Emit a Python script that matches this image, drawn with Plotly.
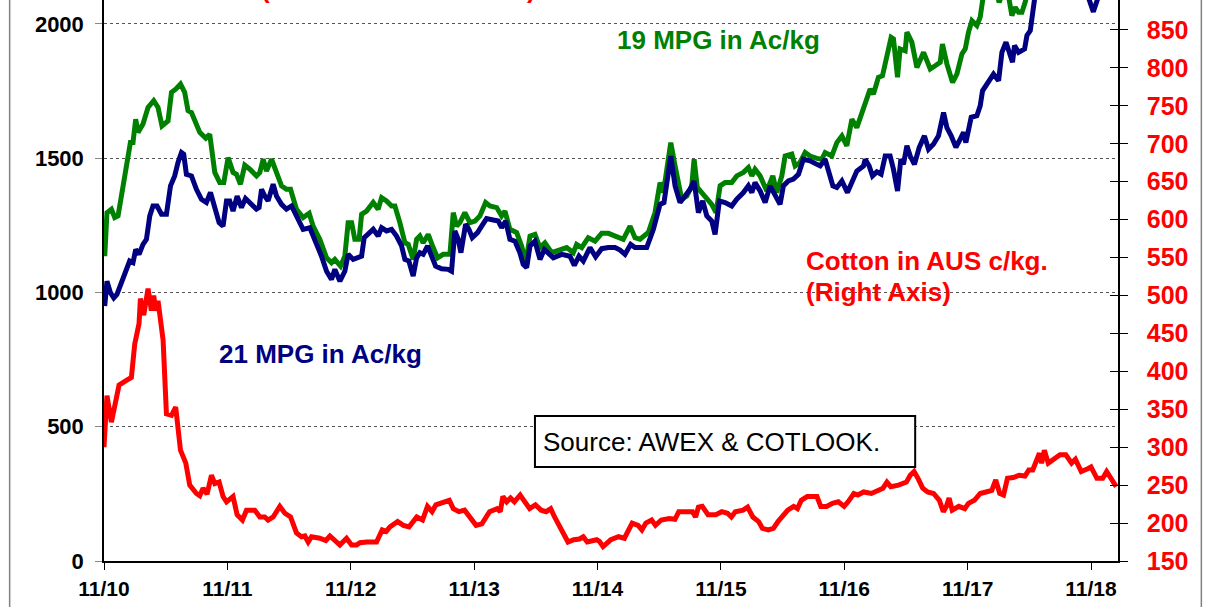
import plotly.graph_objects as go

# ---------------- data (decimal years, values) ----------------
green_t = [2010.839, 2010.857, 2010.893, 2010.920, 2010.947, 2010.987, 2011.028, 2011.047, 2011.068, 2011.090,
           2011.109, 2011.149, 2011.190, 2011.236, 2011.271, 2011.303, 2011.352, 2011.380, 2011.414, 2011.453,
           2011.487, 2011.514, 2011.542, 2011.609, 2011.658, 2011.690, 2011.731, 2011.771, 2011.804, 2011.839,
           2011.879, 2011.907, 2011.939, 2011.974, 2012.015, 2012.069, 2012.096, 2012.123, 2012.150, 2012.191,
           2012.231, 2012.272, 2012.312, 2012.345, 2012.393, 2012.447, 2012.496, 2012.528, 2012.582, 2012.637,
           2012.677, 2012.704, 2012.750, 2012.785, 2012.812, 2012.840, 2012.866, 2012.901, 2012.921, 2012.961,
           2013.015, 2013.055, 2013.083, 2013.123, 2013.164, 2013.191, 2013.231, 2013.272, 2013.299, 2013.339,
           2013.367, 2013.393, 2013.420, 2013.461, 2013.501, 2013.537, 2013.582, 2013.637, 2013.664, 2013.691,
           2013.718, 2013.758, 2013.799, 2013.840, 2013.880, 2013.926, 2013.961, 2014.016, 2014.056, 2014.083,
           2014.123, 2014.178, 2014.218, 2014.251, 2014.286, 2014.326, 2014.367, 2014.407, 2014.462, 2014.515,
           2014.583, 2014.637, 2014.664, 2014.705, 2014.758, 2014.813, 2014.867, 2014.921, 2014.975, 2015.042,
           2015.097, 2015.137, 2015.178, 2015.245, 2015.299, 2015.340, 2015.367, 2015.394, 2015.427, 2015.462,
           2015.516, 2015.557, 2015.597, 2015.616, 2015.642, 2015.678, 2015.719, 2015.759, 2015.794, 2015.827,
           2015.867, 2015.921, 2015.962, 2016.016, 2016.056, 2016.084, 2016.110, 2016.151, 2016.205, 2016.254,
           2016.286, 2016.327, 2016.354, 2016.408, 2016.435, 2016.475, 2016.516, 2016.556, 2016.611, 2016.651,
           2016.678, 2016.732, 2016.773, 2016.814, 2016.854, 2016.895, 2016.935, 2016.989, 2017.043, 2017.070,
           2017.110, 2017.143, 2017.179, 2017.213, 2017.232, 2017.265, 2017.286, 2017.327, 2017.341, 2017.381,
           2017.422, 2017.476, 2017.503, 2017.530, 2017.570, 2017.611, 2017.629, 2017.665, 2017.711, 2017.746,
           2017.787, 2017.814, 2017.840, 2017.868, 2017.908, 2017.935, 2017.962, 2018.000, 2018.049, 2018.089,
           2018.122, 2018.162, 2018.192, 2018.219, 2018.246, 2018.273, 2018.300, 2018.327, 2018.422, 2018.543,
           2018.665, 2018.787, 2018.852, 2018.908, 2019.038]
green_v = [1135, 1297, 1310, 1279, 1285, 1397, 1533, 1558, 1558, 1645,
           1596, 1627, 1689, 1714, 1689, 1620, 1639, 1745, 1757, 1776,
           1745, 1677, 1670, 1596, 1574, 1589, 1447, 1409, 1409, 1502,
           1447, 1440, 1403, 1474, 1459, 1434, 1447, 1496, 1452, 1496,
           1447, 1397, 1384, 1384, 1310, 1279, 1295, 1247, 1198, 1129,
           1111, 1123, 1098, 1135, 1260, 1260, 1198, 1198, 1291, 1303,
           1335, 1310, 1353, 1341, 1322, 1322, 1260, 1185, 1179, 1123,
           1198, 1210, 1185, 1216, 1167, 1129, 1142, 1142, 1297, 1247,
           1260, 1297, 1260, 1266, 1285, 1335, 1322, 1316, 1285, 1303,
           1235, 1223, 1173, 1111, 1210, 1216, 1167, 1185, 1148, 1158,
           1167, 1148, 1179, 1167, 1204, 1191, 1220, 1220, 1210, 1198,
           1247, 1204, 1198, 1223, 1297, 1409, 1372, 1447, 1558, 1471,
           1347, 1359, 1397, 1496, 1391, 1372, 1347, 1328, 1297, 1397,
           1409, 1409, 1434, 1447, 1465, 1434, 1459, 1434, 1378, 1434,
           1372, 1434, 1508, 1515, 1471, 1484, 1521, 1508, 1499, 1496,
           1521, 1508, 1558, 1583, 1546, 1645, 1614, 1680, 1757, 1739,
           1801, 1807, 1888, 1950, 1944, 1801, 1907, 1900, 1969, 1932,
           1838, 1894, 1863, 1832, 1844, 1857, 1925, 1851, 1782, 1813,
           1888, 1907, 1969, 2012, 1994, 2025, 2110, 2180, 2150, 2080,
           2125, 2110, 2031, 2062, 2043, 2043, 2081, 2130, 2250, 2380,
           2350, 2400, 2250, 2350, 2300]

blue_t = [2010.839, 2010.857, 2010.885, 2010.912, 2010.938, 2010.974, 2011.015, 2011.041, 2011.068, 2011.090,
          2011.117, 2011.149, 2011.177, 2011.204, 2011.230, 2011.263, 2011.299, 2011.339, 2011.372, 2011.406,
          2011.433, 2011.461, 2011.479, 2011.501, 2011.542, 2011.582, 2011.623, 2011.663, 2011.696, 2011.731,
          2011.766, 2011.798, 2011.826, 2011.852, 2011.879, 2011.912, 2011.947, 2011.980, 2012.028, 2012.069,
          2012.090, 2012.110, 2012.136, 2012.163, 2012.204, 2012.231, 2012.272, 2012.312, 2012.353, 2012.393,
          2012.447, 2012.501, 2012.542, 2012.596, 2012.637, 2012.677, 2012.704, 2012.745, 2012.785, 2012.812,
          2012.853, 2012.893, 2012.921, 2012.942, 2012.974, 2013.015, 2013.055, 2013.083, 2013.123, 2013.164,
          2013.204, 2013.245, 2013.272, 2013.304, 2013.339, 2013.367, 2013.393, 2013.420, 2013.456, 2013.488,
          2013.521, 2013.569, 2013.623, 2013.650, 2013.677, 2013.704, 2013.726, 2013.764, 2013.791, 2013.818,
          2013.861, 2013.894, 2013.934, 2013.988, 2014.029, 2014.056, 2014.089, 2014.123, 2014.164, 2014.204,
          2014.231, 2014.259, 2014.286, 2014.326, 2014.367, 2014.402, 2014.434, 2014.475, 2014.543, 2014.610,
          2014.645, 2014.683, 2014.718, 2014.772, 2014.818, 2014.867, 2014.921, 2014.975, 2015.016, 2015.056,
          2015.102, 2015.137, 2015.192, 2015.232, 2015.286, 2015.340, 2015.372, 2015.399, 2015.427, 2015.462,
          2015.502, 2015.543, 2015.583, 2015.616, 2015.651, 2015.686, 2015.719, 2015.759, 2015.786, 2015.821,
          2015.867, 2015.921, 2015.962, 2016.016, 2016.056, 2016.084, 2016.110, 2016.151, 2016.192, 2016.232,
          2016.259, 2016.286, 2016.313, 2016.340, 2016.380, 2016.421, 2016.462, 2016.502, 2016.556, 2016.611,
          2016.638, 2016.678, 2016.705, 2016.741, 2016.773, 2016.814, 2016.859, 2016.895, 2016.935, 2016.989,
          2017.003, 2017.035, 2017.062, 2017.097, 2017.132, 2017.165, 2017.205, 2017.232, 2017.265, 2017.292,
          2017.313, 2017.341, 2017.368, 2017.402, 2017.441, 2017.483, 2017.516, 2017.556, 2017.597, 2017.638,
          2017.665, 2017.700, 2017.738, 2017.773, 2017.800, 2017.819, 2017.862, 2017.908, 2017.935, 2017.954,
          2018.003, 2018.043, 2018.084, 2018.111, 2018.144, 2018.170, 2018.197, 2018.213, 2018.246, 2018.295,
          2018.314, 2018.341, 2018.355, 2018.381, 2018.462, 2018.568, 2018.665, 2018.762, 2018.811, 2018.852,
          2018.892, 2018.949, 2019.038]
blue_v = [949, 1042, 999, 980, 993, 1036, 1079, 1117, 1111, 1160,
          1142, 1179, 1198, 1285, 1322, 1322, 1291, 1291, 1397, 1434,
          1484, 1521, 1515, 1440, 1434, 1384, 1347, 1335, 1372, 1310,
          1260, 1247, 1341, 1341, 1303, 1359, 1316, 1350, 1328, 1310,
          1316, 1384, 1359, 1341, 1403, 1359, 1328, 1310, 1322, 1285,
          1235, 1241, 1198, 1135, 1079, 1048, 1086, 1042, 1079, 1142,
          1123, 1129, 1135, 1204, 1216, 1235, 1210, 1241, 1229, 1235,
          1210, 1173, 1123, 1117, 1061, 1129, 1148, 1142, 1173, 1135,
          1098, 1088, 1086, 1079, 1229, 1198, 1148, 1254, 1235, 1204,
          1223, 1247, 1275, 1270, 1266, 1241, 1266, 1198, 1191, 1148,
          1104, 1092, 1173, 1191, 1123, 1160, 1148, 1129, 1142, 1135,
          1101, 1135, 1117, 1167, 1133, 1163, 1167, 1167, 1158, 1142,
          1179, 1167, 1167, 1167, 1235, 1328, 1335, 1422, 1508, 1397,
          1335, 1359, 1384, 1415, 1297, 1341, 1285, 1266, 1216, 1341,
          1335, 1322, 1347, 1372, 1397, 1372, 1409, 1378, 1335, 1397,
          1372, 1347, 1328, 1397, 1415, 1422, 1440, 1496, 1490, 1477,
          1471, 1496, 1447, 1397, 1391, 1415, 1372, 1409, 1452, 1471,
          1496, 1471, 1434, 1449, 1440, 1508, 1508, 1459, 1378, 1496,
          1477, 1546, 1508, 1477, 1540, 1583, 1533, 1552, 1583, 1670,
          1614, 1583, 1540, 1571, 1596, 1558, 1652, 1658, 1695, 1751,
          1788, 1813, 1788, 1894, 1932, 1900, 1857, 1919, 1894, 1907,
          1957, 1975, 2031, 2110, 2180, 2220, 2200, 2160, 2100, 2045,
          2100, 2170, 2150]

red_t = [2010.833, 2010.857, 2010.893, 2010.928, 2010.955, 2011.015, 2011.055, 2011.082, 2011.117, 2011.128,
         2011.155, 2011.190, 2011.217, 2011.236, 2011.252, 2011.271, 2011.312, 2011.339, 2011.380, 2011.414,
         2011.453, 2011.496, 2011.528, 2011.582, 2011.609, 2011.636, 2011.668, 2011.704, 2011.731, 2011.766,
         2011.798, 2011.826, 2011.879, 2011.912, 2011.955, 2011.988, 2012.055, 2012.096, 2012.136, 2012.163,
         2012.204, 2012.258, 2012.299, 2012.345, 2012.393, 2012.434, 2012.461, 2012.488, 2012.515, 2012.582,
         2012.631, 2012.664, 2012.704, 2012.745, 2012.799, 2012.840, 2012.880, 2012.907, 2012.965, 2013.042,
         2013.088, 2013.120, 2013.151, 2013.213, 2013.260, 2013.306, 2013.368, 2013.415, 2013.455, 2013.492,
         2013.523, 2013.601, 2013.632, 2013.664, 2013.710, 2013.756, 2013.803, 2013.849, 2013.896, 2013.958,
         2014.020, 2014.045, 2014.066, 2014.097, 2014.128, 2014.159, 2014.206, 2014.252, 2014.283, 2014.330,
         2014.376, 2014.417, 2014.454, 2014.485, 2014.541, 2014.594, 2014.641, 2014.687, 2014.718, 2014.750,
         2014.827, 2014.849, 2014.878, 2014.941, 2015.004, 2015.051, 2015.114, 2015.162, 2015.193, 2015.225,
         2015.272, 2015.303, 2015.350, 2015.414, 2015.461, 2015.492, 2015.556, 2015.603, 2015.628, 2015.651,
         2015.682, 2015.729, 2015.792, 2015.840, 2015.887, 2015.918, 2015.950, 2016.013, 2016.050, 2016.092,
         2016.139, 2016.170, 2016.217, 2016.259, 2016.296, 2016.328, 2016.375, 2016.423, 2016.454, 2016.485,
         2016.533, 2016.612, 2016.643, 2016.690, 2016.737, 2016.785, 2016.832, 2016.864, 2016.911, 2016.943,
         2016.990, 2017.053, 2017.100, 2017.147, 2017.179, 2017.210, 2017.273, 2017.337, 2017.368, 2017.399,
         2017.431, 2017.469, 2017.509, 2017.557, 2017.604, 2017.636, 2017.661, 2017.683, 2017.708, 2017.762,
         2017.810, 2017.840, 2017.888, 2017.935, 2017.982, 2018.029, 2018.061, 2018.093, 2018.124, 2018.156,
         2018.203, 2018.251, 2018.298, 2018.329, 2018.361, 2018.393, 2018.415, 2018.433, 2018.455, 2018.487,
         2018.534, 2018.582, 2018.629, 2018.676, 2018.707, 2018.754, 2018.811, 2018.833, 2018.881, 2018.928,
         2018.960, 2019.007, 2019.038]
red_v = [300, 368, 333, 357, 382, 388, 392, 436, 463, 496,
         474, 509, 480, 500, 480, 493, 441, 344, 342, 353,
         296, 279, 250, 239, 236, 246, 238, 263, 252, 254,
         235, 228, 235, 211, 204, 217, 217, 208, 208, 204,
         208, 222, 213, 208, 187, 182, 183, 175, 182, 180,
         177, 183, 178, 171, 180, 171, 171, 174, 175, 175,
         191, 189, 195, 202, 197, 195, 208, 204, 222, 215,
         224, 228, 230, 219, 215, 217, 206, 197, 199, 215,
         219, 215, 235, 228, 233, 228, 237, 226, 219, 224,
         217, 215, 219, 208, 191, 175, 178, 179, 182, 175,
         178, 176, 169, 178, 182, 180, 200, 197, 191, 200,
         204, 197, 204, 206, 205, 215, 215, 215, 208, 221,
         222, 211, 211, 215, 213, 208, 215, 217, 221, 208,
         202, 193, 191, 193, 202, 208, 217, 222, 219, 230,
         235, 235, 222, 222, 226, 228, 222, 228, 239, 237,
         241, 239, 243, 246, 254, 248, 250, 254, 263, 268,
         259, 246, 241, 239, 230, 215, 222, 233, 217, 222,
         219, 226, 230, 239, 241, 243, 257, 239, 237, 259,
         260, 263, 262, 270, 270, 283, 292, 279, 296, 279,
         285, 290, 290, 279, 284, 268, 272, 274, 259, 259,
         268, 254, 248]

tick_years = [2010, 2011, 2012, 2013, 2014, 2015, 2016, 2017, 2018]
tick_text = ["11/10", "11/11", "11/12", "11/13", "11/14", "11/15", "11/16", "11/17", "11/18"]
left_ticks = [0, 500, 1000, 1500, 2000]

FONT = "Liberation Sans, Arial, sans-serif"
GREEN, NAVY, RED = "#008000", "#000080", "#FF0000"

x0, x1 = 2010.833, 2019.052
right_range = [150, 889.5]
LW = 5

fig = go.Figure()
fig.add_trace(go.Scatter(x=red_t, y=red_v, mode="lines", yaxis="y2",
                         line=dict(color=RED, width=LW), name="Cotton", hoverinfo="skip"))
fig.add_trace(go.Scatter(x=green_t, y=green_v, mode="lines",
                         line=dict(color=GREEN, width=LW), name="19 MPG", hoverinfo="skip"))
fig.add_trace(go.Scatter(x=blue_t, y=blue_v, mode="lines",
                         line=dict(color=NAVY, width=LW), name="21 MPG", hoverinfo="skip"))
# empty trace carrying the inner half of the right-axis cross ticks
fig.add_trace(go.Scatter(x=[x0], y=[None], yaxis="y3", mode="lines", showlegend=False, hoverinfo="skip"))

fig.update_layout(
    width=1208, height=607,
    margin=dict(l=104, r=90, t=0, b=46),
    paper_bgcolor="white", plot_bgcolor="white",
    showlegend=False,
    xaxis=dict(range=[x0, x1], tickvals=[y + 10 / 12 for y in tick_years], ticktext=tick_text,
               showgrid=False, zeroline=False, showline=True, linecolor="black", linewidth=1.5,
               ticks="outside", ticklen=7, tickcolor="black", ticklabelstandoff=1,
               tickfont=dict(family=FONT, size=21, color="black", weight="bold")),
    yaxis=dict(range=[0, 2089], tickvals=left_ticks, showgrid=True, gridcolor="#555555",
               griddash="dot", gridwidth=1, zeroline=False, showline=True, linecolor="black",
               linewidth=1.5, ticks="outside", ticklen=7, tickcolor="#888888",
               ticklabelstandoff=7,
               tickfont=dict(family=FONT, size=22, color="black", weight="bold")),
    yaxis2=dict(range=right_range, overlaying="y", side="right", dtick=50, tick0=150,
                showgrid=False, zeroline=False, showline=True, linecolor="black", linewidth=1.5,
                ticks="outside", ticklen=8, tickcolor="black", ticklabelstandoff=14,
                tickfont=dict(family=FONT, size=25, color=RED, weight="bold")),
    yaxis3=dict(range=right_range, overlaying="y", side="right", dtick=50, tick0=150,
                showgrid=False, zeroline=False, showline=False, showticklabels=False,
                ticks="inside", ticklen=8, tickcolor="black"),
)

def px_x(p):
    return (p - 104.3) / 1013.4

def px_y(p):
    return (561 - p) / 561

shapes = [
    dict(type="rect", xref="paper", yref="paper", x0=px_x(603), x1=px_x(874), y0=px_y(62), y1=px_y(12),
         fillcolor="white", line=dict(width=0), layer="between"),
    dict(type="rect", xref="paper", yref="paper", x0=px_x(795), x1=px_x(1085), y0=px_y(312), y1=px_y(240),
         fillcolor="white", line=dict(width=0), layer="between"),
    dict(type="rect", xref="paper", yref="paper", x0=px_x(535), x1=px_x(915), y0=px_y(467), y1=px_y(416),
         fillcolor="white", line=dict(color="black", width=2), layer="above"),
    dict(type="line", xref="paper", yref="paper", x0=px_x(10), x1=px_x(10), y0=-0.2, y1=1.2,
         line=dict(color="#808080", width=1.5)),
    dict(type="line", xref="paper", yref="paper", x0=px_x(1201), x1=px_x(1201), y0=-0.2, y1=1.2,
         line=dict(color="#808080", width=1.5)),
]
fig.update_layout(shapes=shapes)

ann = [
    dict(text="19 MPG in Ac/kg", x=px_x(615), y=px_y(40), color=GREEN, bold=True),
    dict(text="21 MPG in Ac/kg", x=px_x(217), y=px_y(354), color=NAVY, bold=True),
    dict(text="Cotton in AUS c/kg.", x=px_x(804), y=px_y(261), color=RED, bold=True),
    dict(text="(Right Axis)", x=px_x(804), y=px_y(292), color=RED, bold=True),
    dict(text="Source: AWEX & COTLOOK.", x=px_x(541), y=px_y(442), color="black", bold=False),
]
for a in ann:
    fig.add_annotation(xref="paper", yref="paper", x=a["x"], y=a["y"], xanchor="left", yanchor="middle",
                       text=a["text"], showarrow=False,
                       font=dict(family=FONT, size=26, color=a["color"],
                                 weight="bold" if a["bold"] else "normal"))
for t, p in [("(", 266), (")", 532)]:
    fig.add_annotation(xref="paper", yref="paper", x=px_x(p), y=px_y(6), xanchor="center", yanchor="bottom",
                       text=t, showarrow=False, font=dict(family=FONT, size=26, color=RED, weight="bold"))

fig.write_html("out.html",
               config={"displayModeBar": False},
               post_script="document.body.style.margin='0px';document.body.style.overflow='hidden';")
